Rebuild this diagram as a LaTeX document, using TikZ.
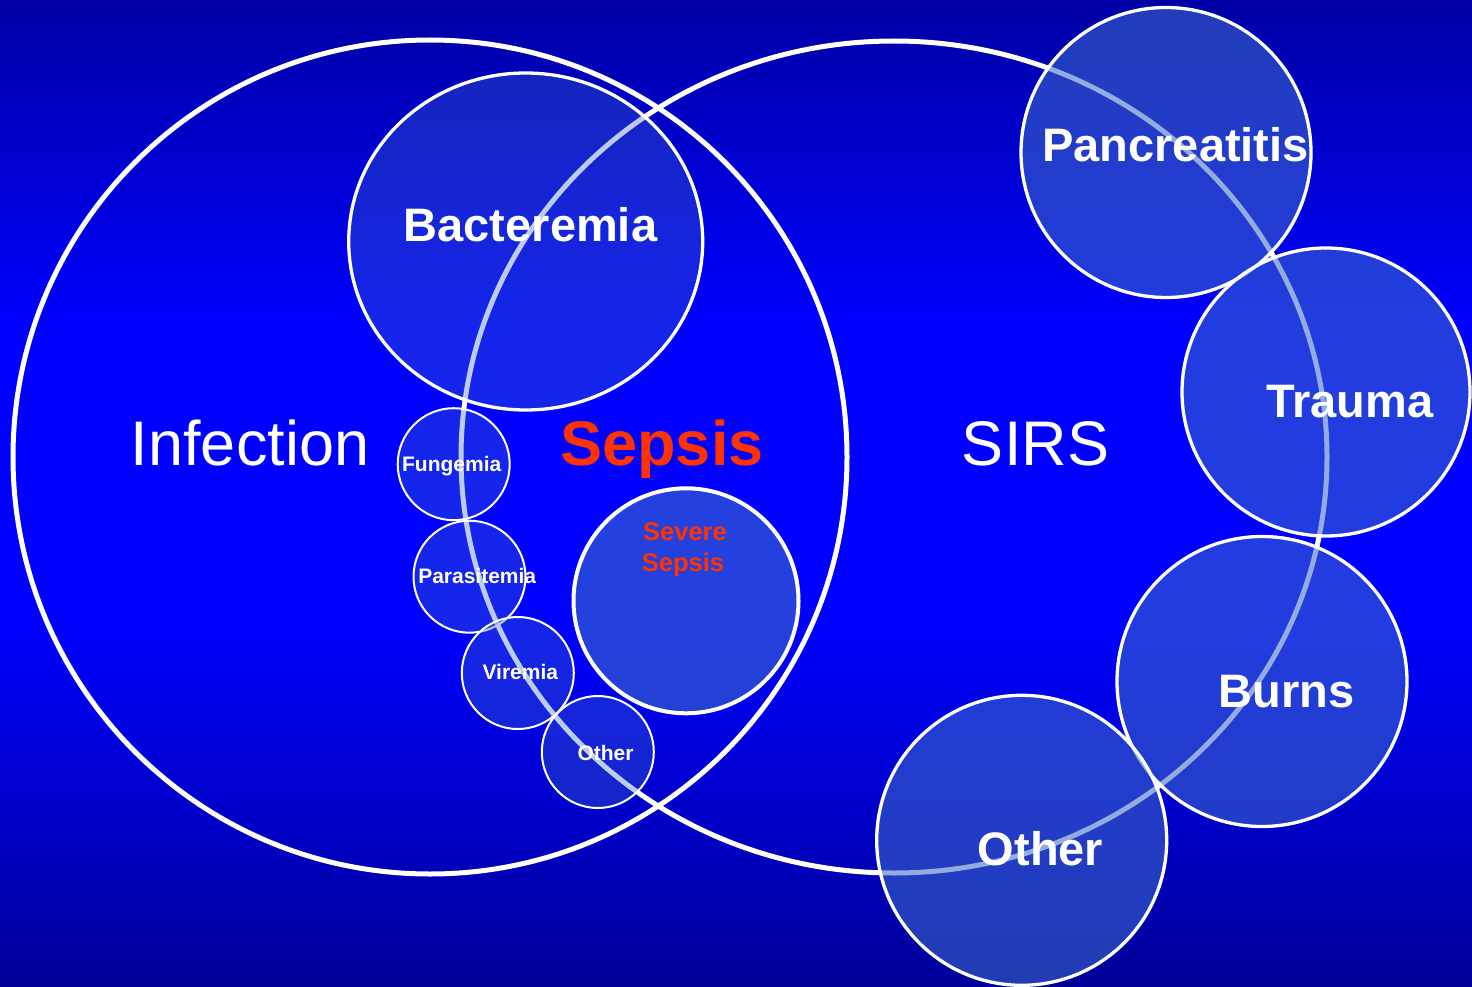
\documentclass[tikz,border=0pt]{standalone}
\usepackage{fontspec}
\setmainfont{Liberation Sans}
\definecolor{bgtop}{RGB}{0,0,165}
\definecolor{bgmid}{RGB}{0,0,255}
\definecolor{bgbot}{RGB}{0,0,152}
\definecolor{discfill}{RGB}{61,107,201}
\definecolor{sepsisred}{RGB}{255,51,0}
\tikzset{
  bigring/.style={draw=white, line width=5pt},
  disc/.style={draw=white, line width=3.3pt, fill=discfill, fill opacity=0.56},
  lightdisc/.style={draw=white, line width=3.3pt, fill=discfill, fill opacity=0.35},
  smalldisc/.style={draw=white, line width=2pt, fill=discfill, fill opacity=0.35},
  severedisc/.style={draw=white, line width=4pt, fill=discfill, fill opacity=0.6},
  hugelabel/.style={text=white, anchor=base, inner sep=0pt, font=\fontsize{63}{70}\selectfont},
  biglabel/.style={text=white, anchor=base, inner sep=0pt, font=\fontsize{47}{54}\selectfont\bfseries},
  smalllabel/.style={text=white, anchor=base, inner sep=0pt, font=\fontsize{21}{25}\selectfont\bfseries},
  redlabel/.style={text=sepsisred, anchor=base, inner sep=0pt, font=\fontsize{25.5}{30}\selectfont\bfseries}
}
\begin{document}
\begin{tikzpicture}[x=1pt,y=-1pt]
\useasboundingbox (0,0) rectangle (1472,987);
% background
\fill[bgmid] (0,0) rectangle (1472,987);
\shade[top color=bgtop, bottom color=bgmid] (0,0) rectangle (1472,330);
\shade[top color=bgmid, bottom color=bgbot] (0,620) rectangle (1472,987);
% large sets
\draw[bigring] (430,457) circle [radius=417pt];
\draw[bigring] (894,457) ellipse [x radius=433pt, y radius=416pt];
% infection subsets
\draw[lightdisc] (525.7,241.5) ellipse [x radius=177pt, y radius=168.5pt];
\draw[smalldisc] (453.7,464.2) circle [radius=56pt];
\draw[smalldisc] (469.5,576.7) circle [radius=56pt];
\draw[smalldisc] (517.8,673) circle [radius=56pt];
\draw[smalldisc] (597.8,752) circle [radius=56pt];
\draw[severedisc] (686,600.8) circle [radius=112.5pt];
% SIRS causes
\draw[disc] (1166,152.5) circle [radius=145pt];
\draw[disc] (1326,392) circle [radius=144pt];
\draw[disc] (1262,681.5) circle [radius=145pt];
\draw[disc] (1021.7,840.3) circle [radius=145pt];
% labels
\node[hugelabel] (infection) at (250,465) {Infection};
\node[hugelabel, text=sepsisred, font=\fontsize{63}{70}\selectfont\bfseries] (sepsis) at (662,465) {Sepsis};
\node[hugelabel] (sirs) at (1035.5,465) {SIRS};
\node[biglabel] (bacteremia) at (530.5,241.7) {Bacteremia};
\node[biglabel] (pancreatitis) at (1175.5,162) {Pancreatitis};
\node[biglabel] (trauma) at (1350,417) {Trauma};
\node[biglabel] (burns) at (1286.5,707) {Burns};
\node[biglabel] (otherbig) at (1040.5,865) {Other};
\node[redlabel] (severe) at (685,540.7) {Severe};
\node[redlabel] (sevsepsis) at (683,571.7) {Sepsis};
\node[smalllabel] (fungemia) at (451.7,471.7) {Fungemia};
\node[smalllabel] (parasitemia) at (477.2,583.3) {Parasitemia};
\node[smalllabel] (viremia) at (520.3,679.3) {Viremia};
\node[smalllabel] (othersmall) at (605.5,760) {Other};
\end{tikzpicture}
\end{document}
